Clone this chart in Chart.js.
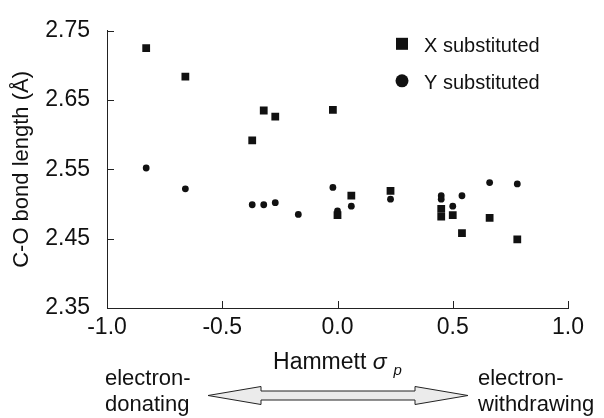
<!DOCTYPE html>
<html>
<head>
<meta charset="utf-8">
<script src="https://cdn.jsdelivr.net/npm/chart.js@4"></script>
<style>
  html, body { margin: 0; padding: 0; background: #fff; }
  #wrap { width: 604px; height: 418px; position: relative; }
</style>
</head>
<body>
<div id="wrap"><canvas id="chart-scatter"></canvas></div>
<script>
// Hammett sigma_p values and C-O bond lengths
const xSubSigma = [-0.83, -0.66, -0.37, -0.32, -0.27, -0.02, 0.00, 0.06, 0.23, 0.45, 0.45, 0.50, 0.54, 0.66, 0.78];
const xSubBond  = [2.725, 2.684, 2.592, 2.635, 2.626, 2.636, 2.484, 2.512, 2.519, 2.493, 2.482, 2.484, 2.458, 2.480, 2.449];

const ySubSigma = [-0.83, -0.66, -0.37, -0.32, -0.27, -0.17, -0.02, 0.00, 0.06, 0.23, 0.45, 0.45, 0.50, 0.54, 0.66, 0.78];
const ySubBond  = [2.552, 2.522, 2.499, 2.499, 2.502, 2.485, 2.524, 2.490, 2.497, 2.507, 2.512, 2.507, 2.497, 2.512, 2.531, 2.529];

const seriesNames = ["X substituted", "Y substituted"];

const xTickValues = [-1.0, -0.5, 0.0, 0.5, 1.0];
const xTickLabels = ["-1.0", "-0.5", "0.0", "0.5", "1.0"];
const yTickValues = [2.35, 2.45, 2.55, 2.65, 2.75];
const yTickLabels = ["2.35", "2.45", "2.55", "2.65", "2.75"];

const INK = "#111";
const AXIS = "#222";
const FONT = "'Liberation Sans', Arial, Helvetica, sans-serif";

function toPoints(xs, ys) {
  return xs.map((v, i) => ({ x: v, y: ys[i] }));
}

// ticks inside the axes, sigma_p title, legend and the arrow note
const extrasPlugin = {
  id: "extras",
  afterDraw(chart) {
    const { ctx, chartArea, scales } = chart;
    const x = scales.x;
    const y = scales.y;
    ctx.save();

    // inward tick marks
    ctx.strokeStyle = AXIS;
    ctx.lineWidth = 1;
    x.ticks.forEach((t) => {
      const px = Math.round(x.getPixelForValue(t.value)) + 0.5;
      ctx.beginPath();
      ctx.moveTo(px, chartArea.bottom);
      ctx.lineTo(px, chartArea.bottom - 7);
      ctx.stroke();
    });
    y.ticks.forEach((t) => {
      const py = Math.round(y.getPixelForValue(t.value)) + 0.5;
      ctx.beginPath();
      ctx.moveTo(chartArea.left, py);
      ctx.lineTo(chartArea.left + 7, py);
      ctx.stroke();
    });

    // x title: Hammett σ_p
    ctx.fillStyle = INK;
    ctx.textBaseline = "alphabetic";
    ctx.textAlign = "left";
    const fMain = "23px " + FONT;
    const fSig = "italic 23px " + FONT;
    const fSub = "italic 15px " + FONT;
    ctx.font = fMain;
    const w1 = ctx.measureText("Hammett ").width;
    ctx.font = fSig;
    const w2 = ctx.measureText("σ").width;
    ctx.font = fSub;
    const w3 = ctx.measureText("p").width;
    const gap = 7;
    let tx = (chartArea.left + chartArea.right) / 2 - (w1 + w2 + gap + w3) / 2;
    const ty = 369;
    ctx.font = fMain;
    ctx.fillText("Hammett ", tx, ty);
    ctx.font = fSig;
    ctx.fillText("σ", tx + w1, ty);
    ctx.font = fSub;
    ctx.fillText("p", tx + w1 + w2 + gap, ty + 6);

    // legend
    const lx = chartArea.right - 166;
    const ly = chartArea.top + 13;
    ctx.fillStyle = INK;
    ctx.fillRect(lx - 6, ly - 6, 12, 12);
    ctx.beginPath();
    ctx.arc(lx, ly + 37, 6.5, 0, Math.PI * 2);
    ctx.fill();
    ctx.font = "20px " + FONT;
    ctx.fillText(seriesNames[0], lx + 22, ly + 8);
    ctx.fillText(seriesNames[1], lx + 22, ly + 45);

    // electron-donating / electron-withdrawing note
    ctx.font = "22px " + FONT;
    ctx.fillText("electron-", 105, 385);
    ctx.fillText("donating", 105, 411);
    ctx.fillText("electron-", 478, 385);
    ctx.fillText("withdrawing", 478, 411);

    // double-headed hollow arrow
    const ay = 395.5, tipL = 208, tipR = 468, head = 53, hh = 9, sh = 4.5;
    ctx.beginPath();
    ctx.moveTo(tipL, ay);
    ctx.lineTo(tipL + head, ay - hh);
    ctx.lineTo(tipL + head, ay - sh);
    ctx.lineTo(tipR - head, ay - sh);
    ctx.lineTo(tipR - head, ay - hh);
    ctx.lineTo(tipR, ay);
    ctx.lineTo(tipR - head, ay + hh);
    ctx.lineTo(tipR - head, ay + sh);
    ctx.lineTo(tipL + head, ay + sh);
    ctx.lineTo(tipL + head, ay + hh);
    ctx.closePath();
    ctx.fillStyle = "#ebebeb";
    ctx.fill();
    ctx.strokeStyle = AXIS;
    ctx.lineWidth = 1;
    ctx.stroke();

    ctx.restore();
  },
};

const canvas = document.getElementById("chart-scatter");
new Chart(canvas.getContext("2d"), {
  type: "scatter",
  data: {
    datasets: [
      {
        label: seriesNames[0],
        data: toPoints(xSubSigma, xSubBond),
        pointStyle: "rect",
        pointRadius: 5.5,
        backgroundColor: INK,
        borderColor: INK,
        borderWidth: 0,
      },
      {
        label: seriesNames[1],
        data: toPoints(ySubSigma, ySubBond),
        pointStyle: "circle",
        pointRadius: 3.4,
        backgroundColor: INK,
        borderColor: INK,
        borderWidth: 0,
      },
    ],
  },
  plugins: [extrasPlugin],
  options: {
    responsive: true,
    maintainAspectRatio: false,
    animation: false,
    layout: { padding: { top: 21, right: 36, left: 0, bottom: 0 } },
    plugins: {
      legend: { display: false },
      tooltip: { enabled: false },
    },
    scales: {
      x: {
        type: "linear",
        min: -1,
        max: 1,
        afterBuildTicks: (scale) => {
          scale.ticks = xTickValues.map((v) => ({ value: v }));
        },
        afterFit: (scale) => {
          scale.height = 110;
        },
        ticks: {
          color: INK,
          font: { family: FONT, size: 23 },
          padding: 6,
          maxRotation: 0,
          callback: (value, i) => xTickLabels[i],
        },
        grid: { display: false, drawTicks: false },
        border: { display: true, color: AXIS, width: 1 },
      },
      y: {
        type: "linear",
        min: 2.35,
        max: 2.75,
        afterBuildTicks: (scale) => {
          scale.ticks = yTickValues.map((v) => ({ value: v }));
        },
        afterFit: (scale) => {
          scale.width = 107;
        },
        ticks: {
          color: INK,
          font: { family: FONT, size: 23 },
          padding: 17,
          callback: (value, i) => yTickLabels[i],
        },
        grid: { display: false, drawTicks: false },
        border: { display: true, color: AXIS, width: 1 },
        title: {
          display: true,
          text: "C-O bond length (Å)",
          color: INK,
          font: { family: FONT, size: 22 },
          padding: { top: 9, bottom: 0 },
        },
      },
    },
  },
});
</script>
</body>
</html>
